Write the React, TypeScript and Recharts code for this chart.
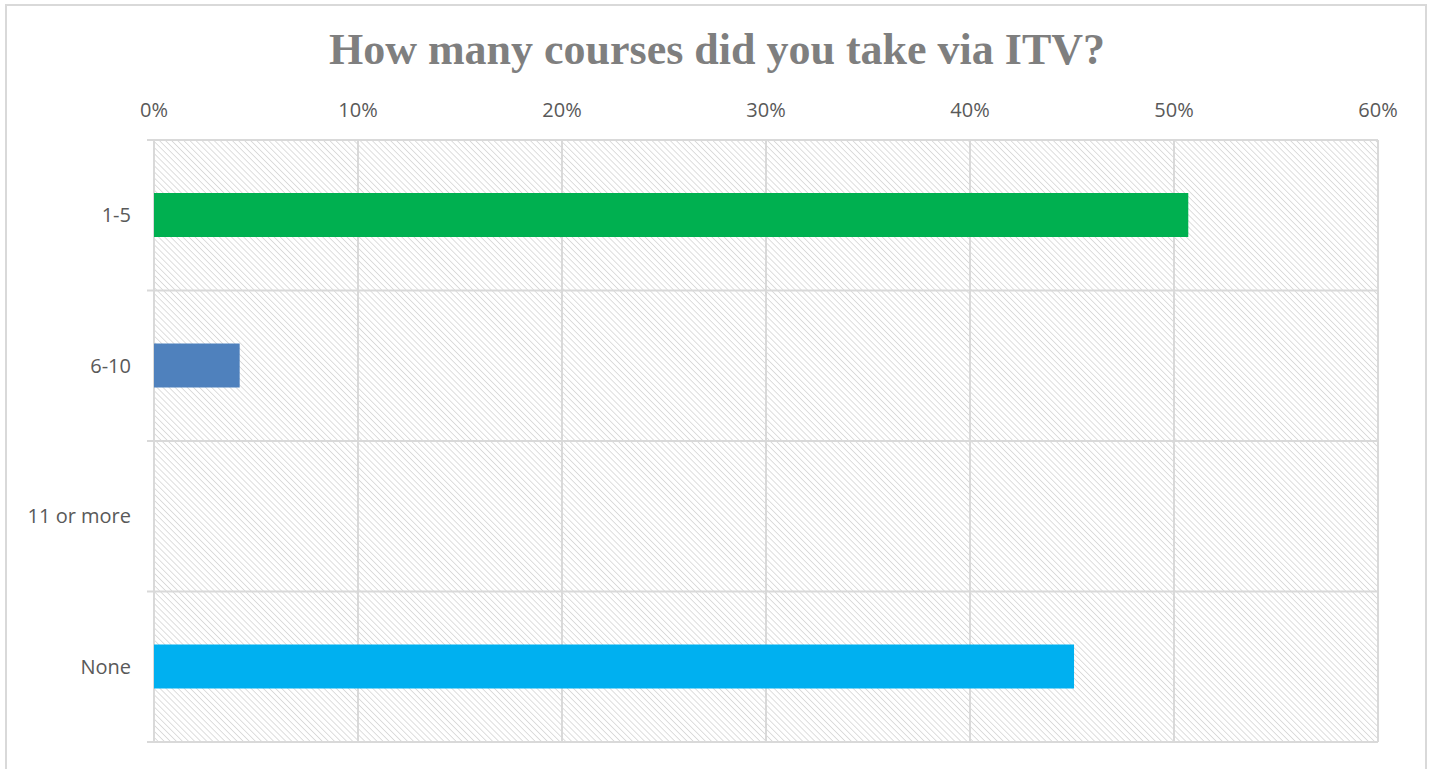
import React from "react";
import { BarChart, Bar, XAxis, YAxis, CartesianGrid, Cell } from "recharts";

const categories = ["1-5", "6-10", "11 or more", "None"];
const values = [50.7, 4.2, 0, 45.1];
const barColors = ["#00B050", "#4F81BD", "#A5A5A5", "#00B0F0"];
const xTicks = [0, 10, 20, 30, 40, 50, 60];
const title = "How many courses did you take via ITV?";

const data = categories.map((c, i) => ({ name: c, value: values[i] }));

const GRID = "#d9d9d9";
const TEXT = "#595959";

export default function App() {
  return (
    <div style={{ position: "absolute", left: 0, top: 0, width: 1433, height: 769, overflow: "hidden", background: "#fff" }}>
      <svg width={0} height={0} style={{ position: "absolute" }}>
        <defs>
          <pattern id="hatch" width={4.3} height={4.3} patternUnits="userSpaceOnUse" patternTransform="rotate(-45)">
            <line x1={0} y1={0} x2={0} y2={4.3} stroke="#d6d6d6" strokeWidth={1.6} />
          </pattern>
        </defs>
      </svg>
      <div
        style={{
          position: "absolute",
          left: 5,
          top: 4,
          width: 1422,
          height: 800,
          border: "2px solid #d9d9d9",
          boxSizing: "border-box",
        }}
      />
      <div
        style={{
          position: "absolute",
          left: 6,
          width: 1422,
          top: 22,
          textAlign: "center",
          fontFamily: "'Liberation Serif', serif",
          fontWeight: "bold",
          fontSize: 44,
          color: "#7f7f7f",
          lineHeight: "56px",
        }}
      >
        {title}
      </div>
      <div style={{ position: "absolute", left: 0, top: 0 }}>
        <BarChart
          width={1433}
          height={769}
          data={data}
          layout="vertical"
          margin={{ top: 0, right: 55, bottom: 27, left: 0 }}
          barSize={44}
        >
          <CartesianGrid
            fill="url(#hatch)"
            stroke={GRID}
            strokeWidth={2}
            horizontalCoordinatesGenerator={({ offset }: any) =>
              categories.map((_, i) => offset.top + (i * offset.height) / categories.length).concat([offset.top + offset.height])
            }
            horizontal={(props: any) => (
              <line
                key={props.key ?? `h-${props.index}-${props.y1}`}
                x1={props.x1 - 7}
                x2={props.x2}
                y1={props.y1}
                y2={props.y2}
                stroke={GRID}
                strokeWidth={2}
              />
            )}
          />
          <XAxis
            type="number"
            orientation="top"
            domain={[0, 60]}
            ticks={xTicks}
            tickFormatter={(v: number) => `${v}%`}
            height={140}
            axisLine={false}
            tickLine={false}
            tickSize={0}
            tickMargin={23}
            interval={0}
            tick={{ fill: TEXT, fontSize: 20, fontFamily: "'Open Sans', sans-serif" }}
          />
          <YAxis
            type="category"
            dataKey="name"
            width={154}
            axisLine={false}
            tickLine={false}
            tickSize={0}
            tickMargin={23}
            interval={0}
            tick={{ fill: TEXT, fontSize: 20, fontFamily: "'Open Sans', sans-serif" }}
          />
          <Bar dataKey="value" isAnimationActive={false}>
            {data.map((d, i) => (
              <Cell key={d.name} fill={barColors[i]} />
            ))}
          </Bar>
        </BarChart>
      </div>
    </div>
  );
}
